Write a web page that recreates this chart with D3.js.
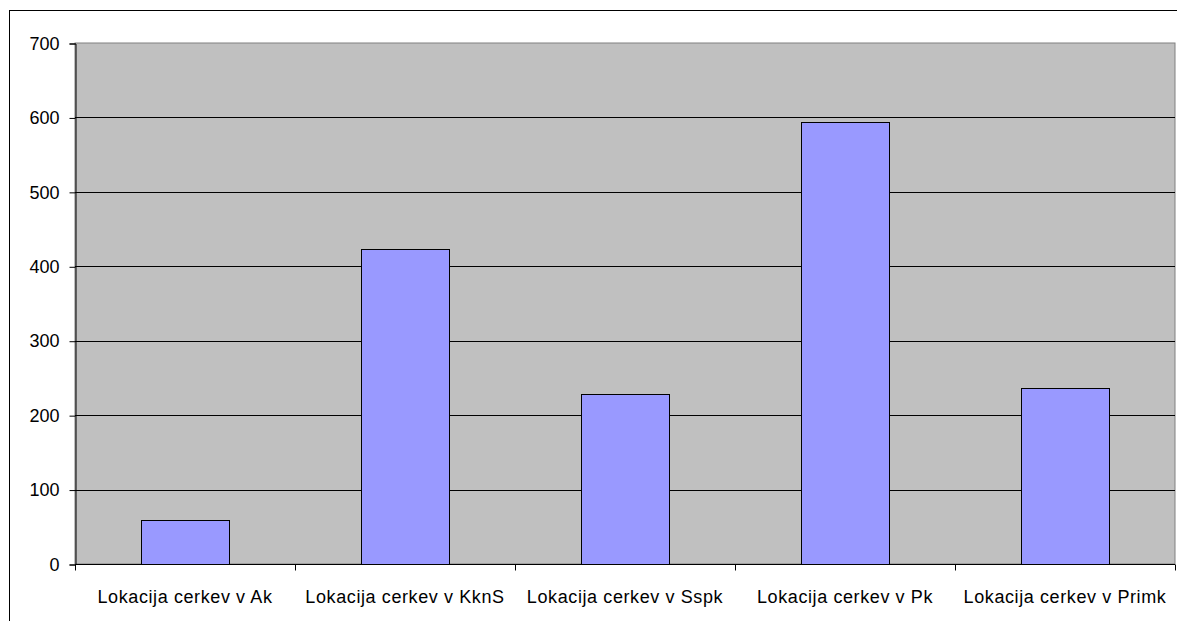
<!DOCTYPE html>
<meta charset="utf-8">
<script src="https://d3js.org/d3.v7.min.js"></script>
<style>
body { margin: 0; background: #fff; }
svg text { font-family: "Liberation Sans", Arial, sans-serif; fill: #000; }
</style>
<svg id="chart" width="1177" height="621"></svg>
<script>

var categories = ["Lokacija cerkev v Ak", "Lokacija cerkev v KknS", "Lokacija cerkev v Sspk", "Lokacija cerkev v Pk", "Lokacija cerkev v Primk"];
var values = [59, 423, 228, 594, 236];
var yTicks = [0, 100, 200, 300, 400, 500, 600, 700];

var svg = d3.select("#chart");

var plotLeft = 75, plotRight = 1175, plotTop = 43, plotBottom = 564;

// outer frame (runs off the page on the right and bottom)
svg.append("rect")
  .attr("x", 9.5).attr("y", 10.5)
  .attr("width", 1200).attr("height", 700)
  .attr("fill", "#fff").attr("stroke", "#000");

var x = d3.scaleBand().domain(categories).range([plotLeft, plotRight]).paddingInner(0.6).paddingOuter(0.3);
var xTicks = d3.scaleBand().domain(categories).range([plotLeft, plotRight]);
var y = d3.scaleLinear().domain([0, 700]).range([plotBottom, plotTop]);

// plot area
svg.append("rect")
  .attr("x", plotLeft).attr("y", plotTop)
  .attr("width", plotRight - plotLeft).attr("height", plotBottom - plotTop)
  .attr("fill", "#c0c0c0").attr("stroke", "#808080");

// gridlines
svg.selectAll(".grid").data(yTicks.slice(1, -1)).enter()
  .append("line")
  .attr("x1", plotLeft).attr("x2", plotRight)
  .attr("y1", function(d) { return Math.round(y(d)) + 0.5; })
  .attr("y2", function(d) { return Math.round(y(d)) + 0.5; })
  .attr("stroke", "#000");

// bars
svg.selectAll(".bar").data(values).enter()
  .append("rect")
  .attr("x", function(d, i) { return Math.round(x(categories[i])) + 0.5; })
  .attr("y", function(d) { return Math.round(y(d)) + 0.5; })
  .attr("width", x.bandwidth())
  .attr("height", function(d) { return plotBottom - Math.round(y(d)); })
  .attr("fill", "#9999ff").attr("stroke", "#000");

// y axis
var yAxis = svg.append("g").attr("transform", "translate(" + (plotLeft + 0.5) + ",0.5)")
  .call(d3.axisLeft(y).tickValues(yTicks).tickSize(6).tickPadding(10));
yAxis.select(".domain").attr("stroke", "#000");
yAxis.selectAll("text").attr("font-size", 18).attr("font-family", "Liberation Sans, Arial, sans-serif");

// x axis
var xAxisG = svg.append("g").attr("transform", "translate(0," + (plotBottom + 0.5) + ")");
xAxisG.append("line").attr("x1", plotLeft).attr("x2", plotRight).attr("stroke", "#000");
var tickPos = categories.map(function(c) { return xTicks(c); }).concat([plotRight]);
xAxisG.selectAll(".tk").data(tickPos).enter()
  .append("line")
  .attr("x1", function(d) { return Math.round(d) + 0.5; })
  .attr("x2", function(d) { return Math.round(d) + 0.5; })
  .attr("y1", 0).attr("y2", 6).attr("stroke", "#000");
xAxisG.selectAll(".lbl").data(categories).enter()
  .append("text")
  .attr("x", function(d) { return xTicks(d) + xTicks.bandwidth() / 2; })
  .attr("y", 38)
  .attr("text-anchor", "middle")
  .attr("font-size", 18)
  .attr("letter-spacing", 0.6)
  .text(function(d) { return d; });

</script>
